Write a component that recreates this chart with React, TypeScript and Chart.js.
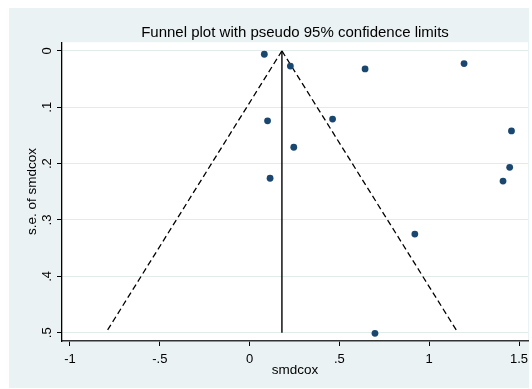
import React, { useEffect, useRef } from "react";
import { Chart, registerables } from "chart.js";

Chart.register(...registerables);

// Study estimates (effect size) and their standard errors
const effects = [0.082, 0.227, 0.643, 1.194, 0.100, 0.462, 1.458, 0.246, 1.448, 0.114, 1.411, 0.920, 0.698];
const standardErrors = [0.006, 0.027, 0.032, 0.0225, 0.124, 0.121, 0.142, 0.171, 0.2065, 0.226, 0.231, 0.325, 0.501];

// Pooled estimate line and pseudo 95% limits (endpoints)
const pooledX = [0.18, 0.18];
const limitSe = [0, 0.5];
const lowerLimitX = [0.18, -0.80];
const upperLimitX = [0.18, 1.16];

// Tick labels
const xTickValues = [-1, -0.5, 0, 0.5, 1, 1.5];
const xTickLabels = ["-1", "-.5", "0", ".5", "1", "1.5"];
const yTickValues = [0, 0.1, 0.2, 0.3, 0.4, 0.5];
const yTickLabels = ["0", ".1", ".2", ".3", ".4", ".5"];

const FONT = "'Liberation Sans', Arial, sans-serif";

const backgroundPlugin = {
  id: "stataBackground",
  beforeDraw(chart: any) {
    const { ctx, chartArea, width, height } = chart;
    ctx.save();
    ctx.fillStyle = "#ffffff";
    ctx.fillRect(0, 0, width, height);
    ctx.fillStyle = "#eaf2f3";
    ctx.fillRect(9, 8, 520, 380);
    ctx.fillStyle = "#ffffff";
    ctx.fillRect(chartArea.left, chartArea.top, chartArea.right - chartArea.left, chartArea.bottom - chartArea.top);
    ctx.restore();
  },
};

export default function App() {
  const ref = useRef<HTMLCanvasElement | null>(null);

  useEffect(() => {
    if (!ref.current) return;
    const chart = new Chart(ref.current, {
      type: "scatter",
      data: {
        datasets: [
          {
            label: "studies",
            data: effects.map((x, i) => ({ x, y: standardErrors[i] })),
            backgroundColor: "#1a476f",
            borderColor: "#1a476f",
            borderWidth: 0,
            pointRadius: 3.4,
            showLine: false,
          },
          {
            label: "lower",
            data: lowerLimitX.map((x, i) => ({ x, y: limitSe[i] })),
            showLine: true,
            borderColor: "#000000",
            borderWidth: 1.3,
            borderDash: [6, 3.5],
            pointRadius: 0,
          },
          {
            label: "upper",
            data: upperLimitX.map((x, i) => ({ x, y: limitSe[i] })),
            showLine: true,
            borderColor: "#000000",
            borderWidth: 1.3,
            borderDash: [6, 3.5],
            pointRadius: 0,
          },
          {
            label: "pooled",
            data: pooledX.map((x, i) => ({ x, y: limitSe[i] })),
            showLine: true,
            borderColor: "#000000",
            borderWidth: 1.4,
            pointRadius: 0,
          },
        ],
      },
      options: {
        animation: false,
        responsive: false,
        maintainAspectRatio: false,
        layout: { padding: { left: 0, right: 3, top: 0, bottom: 0 } },
        plugins: {
          legend: { display: false },
          tooltip: { enabled: false },
          title: {
            display: true,
            text: "Funnel plot with pseudo 95% confidence limits",
            fullSize: false,
            color: "#000000",
            font: { family: FONT, size: 15, weight: "normal", lineHeight: 1.2 },
            padding: { top: 23.6, bottom: 0.6 },
          },
        },
        scales: {
          x: {
            type: "linear",
            min: -1.0444,
            max: 1.55,
            afterBuildTicks: (scale: any) => {
              scale.ticks = xTickValues.map((v) => ({ value: v }));
            },
            afterFit: (scale: any) => {
              scale.height = 48;
              scale.paddingLeft = 0;
              scale.paddingRight = 0;
            },
            ticks: {
              autoSkip: false,
              maxRotation: 0,
              minRotation: 0,
              padding: 6,
              color: "#000000",
              font: { family: FONT, size: 13 },
              callback: (v: any) => {
                const i = xTickValues.findIndex((t) => Math.abs(t - Number(v)) < 1e-9);
                return i >= 0 ? xTickLabels[i] : "";
              },
            },
            grid: {
              drawOnChartArea: false,
              drawTicks: true,
              tickLength: 5,
              tickColor: "#000000",
              tickWidth: 1,
            },
            border: { display: true, color: "#333333", width: 1.6 },
            title: {
              display: true,
              text: "smdcox",
              color: "#000000",
              font: { family: FONT, size: 13.5, lineHeight: 1.2 },
              padding: { top: 0, bottom: 10.5 },
            },
          },
          y: {
            type: "linear",
            reverse: true,
            min: -0.0154,
            max: 0.5147,
            afterBuildTicks: (scale: any) => {
              scale.ticks = yTickValues.map((v) => ({ value: v }));
            },
            afterFit: (scale: any) => {
              scale.width = 62;
              scale.paddingTop = 0;
              scale.paddingBottom = 0;
            },
            ticks: {
              autoSkip: false,
              minRotation: 90,
              maxRotation: 90,
              crossAlign: "center",
              padding: 4,
              color: "#000000",
              font: { family: FONT, size: 13 },
              callback: (v: any) => {
                const i = yTickValues.findIndex((t) => Math.abs(t - Number(v)) < 1e-9);
                return i >= 0 ? yTickLabels[i] : "";
              },
            },
            grid: {
              drawOnChartArea: true,
              drawTicks: true,
              tickLength: 5,
              color: "#e2ebec",
              lineWidth: 1,
              tickColor: "#000000",
              tickWidth: 1,
            },
            border: { display: true, color: "#000000", width: 1.3 },
            title: {
              display: true,
              text: "s.e. of smdcox",
              color: "#000000",
              font: { family: FONT, size: 13.5, lineHeight: 1.2 },
              padding: { top: 24, bottom: 0 },
            },
          },
        },
      },
      plugins: [backgroundPlugin],
    } as any);
    return () => chart.destroy();
  }, []);

  return (
    <div style={{ position: "absolute", left: 0, top: 0, width: 532, height: 389, background: "#fff" }}>
      <canvas ref={ref} width={532} height={389} style={{ display: "block", width: 532, height: 389 }} />
    </div>
  );
}
